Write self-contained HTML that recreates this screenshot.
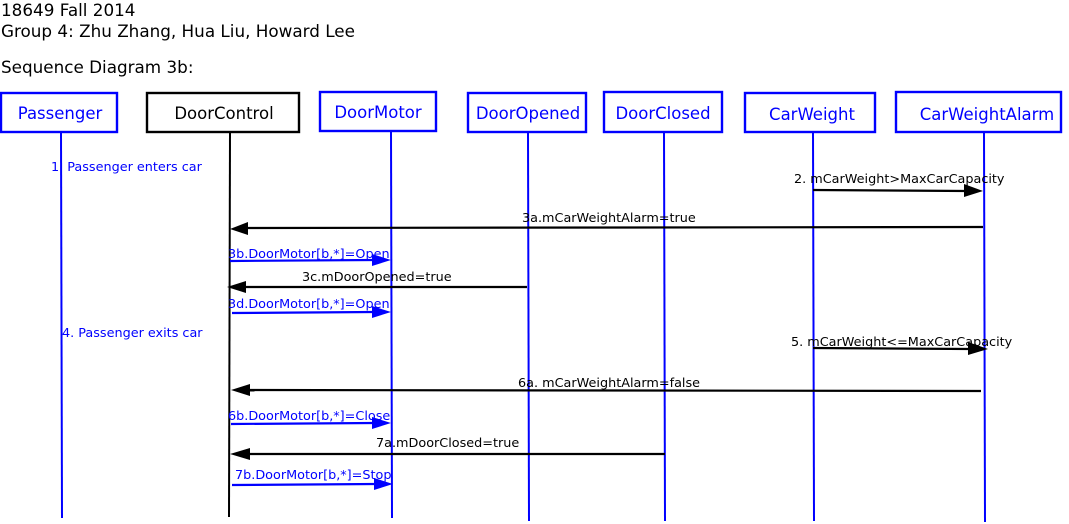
<!DOCTYPE html>
<html><head><meta charset="utf-8"><style>
html,body{margin:0;padding:0;background:#fff;width:1069px;height:524px;overflow:hidden}
svg{display:block}
text{font-family:"DejaVu Sans","Liberation Sans",sans-serif}
</style></head><body>
<svg width="1069" height="524" viewBox="0 0 1069 524" xmlns="http://www.w3.org/2000/svg">
<g font-size="16.8" fill="#000">
<text x="1" y="16">18649 Fall 2014</text>
<text x="1" y="37">Group 4: Zhu Zhang, Hua Liu, Howard Lee</text>
<text x="1" y="73">Sequence Diagram 3b:</text>
</g>
<!-- boxes -->
<g fill="#fff" stroke-width="2.4">
<rect x="1" y="93" width="116" height="39" stroke="#00f"/>
<rect x="147" y="93" width="152" height="39" stroke="#000"/>
<rect x="320" y="92" width="116" height="39" stroke="#00f"/>
<rect x="468" y="93" width="118" height="39" stroke="#00f"/>
<rect x="604" y="92" width="118" height="40" stroke="#00f"/>
<rect x="745" y="93" width="130" height="39" stroke="#00f"/>
<rect x="896" y="92" width="165" height="40" stroke="#00f"/>
</g>
<g font-size="16.5" text-anchor="middle" fill="#00f">
<text x="60" y="119">Passenger</text>
<text x="224" y="119" fill="#000">DoorControl</text>
<text x="378" y="118">DoorMotor</text>
<text x="528" y="119">DoorOpened</text>
<text x="663" y="119">DoorClosed</text>
<text x="812" y="120">CarWeight</text>
<text x="987" y="120">CarWeightAlarm</text>
</g>
<!-- lifelines -->
<g stroke="#00f" stroke-width="2">
<line x1="61" y1="132" x2="62" y2="518"/>
<line x1="391" y1="131" x2="392" y2="518"/>
<line x1="528" y1="132" x2="529" y2="521"/>
<line x1="664" y1="132" x2="665" y2="521"/>
<line x1="813" y1="132" x2="814" y2="521"/>
<line x1="984" y1="132" x2="985" y2="522"/>
</g>
<line x1="230" y1="132" x2="229" y2="517" stroke="#000" stroke-width="2"/>
<!-- messages -->
<g font-size="12.8">
<text x="51" y="171" fill="#00f">1. Passenger enters car</text>
<text x="794" y="183">2. mCarWeight&gt;MaxCarCapacity</text>
<text x="522" y="222">3a.mCarWeightAlarm=true</text>
<text x="228" y="258" fill="#00f">3b.DoorMotor[b,*]=Open</text>
<text x="302" y="281">3c.mDoorOpened=true</text>
<text x="228" y="308" fill="#00f">3d.DoorMotor[b,*]=Open</text>
<text x="62" y="337" fill="#00f">4. Passenger exits car</text>
<text x="791" y="346">5. mCarWeight&lt;=MaxCarCapacity</text>
<text x="518" y="387">6a. mCarWeightAlarm=false</text>
<text x="228" y="420" fill="#00f">6b.DoorMotor[b,*]=Close</text>
<text x="376" y="447">7a.mDoorClosed=true</text>
<text x="235" y="479" fill="#00f">7b.DoorMotor[b,*]=Stop</text>
</g>
<g stroke-width="2.2">
<line x1="813" y1="190" x2="966" y2="191" stroke="#000"/>
<polygon points="964,184 983,191 964,197" fill="#000"/>
<line x1="983" y1="227" x2="246" y2="228" stroke="#000"/>
<polygon points="248,222 230,229 248,235" fill="#000"/>
<line x1="230" y1="261" x2="374" y2="260" stroke="#00f"/>
<polygon points="372,254 391,260 372,266" fill="#00f"/>
<line x1="527" y1="287" x2="244" y2="287" stroke="#000"/>
<polygon points="246,281 227,287 246,293" fill="#000"/>
<line x1="232" y1="313" x2="374" y2="312" stroke="#00f"/>
<polygon points="372,306 391,312 372,318" fill="#00f"/>
<line x1="813" y1="348" x2="970" y2="349" stroke="#000"/>
<polygon points="968,342 988,349 968,355" fill="#000"/>
<line x1="981" y1="391" x2="248" y2="390" stroke="#000"/>
<polygon points="250,384 231,390 250,396" fill="#000"/>
<line x1="231" y1="424" x2="374" y2="423" stroke="#00f"/>
<polygon points="372,417 391,423 372,429" fill="#00f"/>
<line x1="665" y1="454" x2="248" y2="454" stroke="#000"/>
<polygon points="250,448 230,454 250,460" fill="#000"/>
<line x1="232" y1="485" x2="376" y2="484" stroke="#00f"/>
<polygon points="374,478 393,484 374,490" fill="#00f"/>
</g>
</svg>
</body></html>
